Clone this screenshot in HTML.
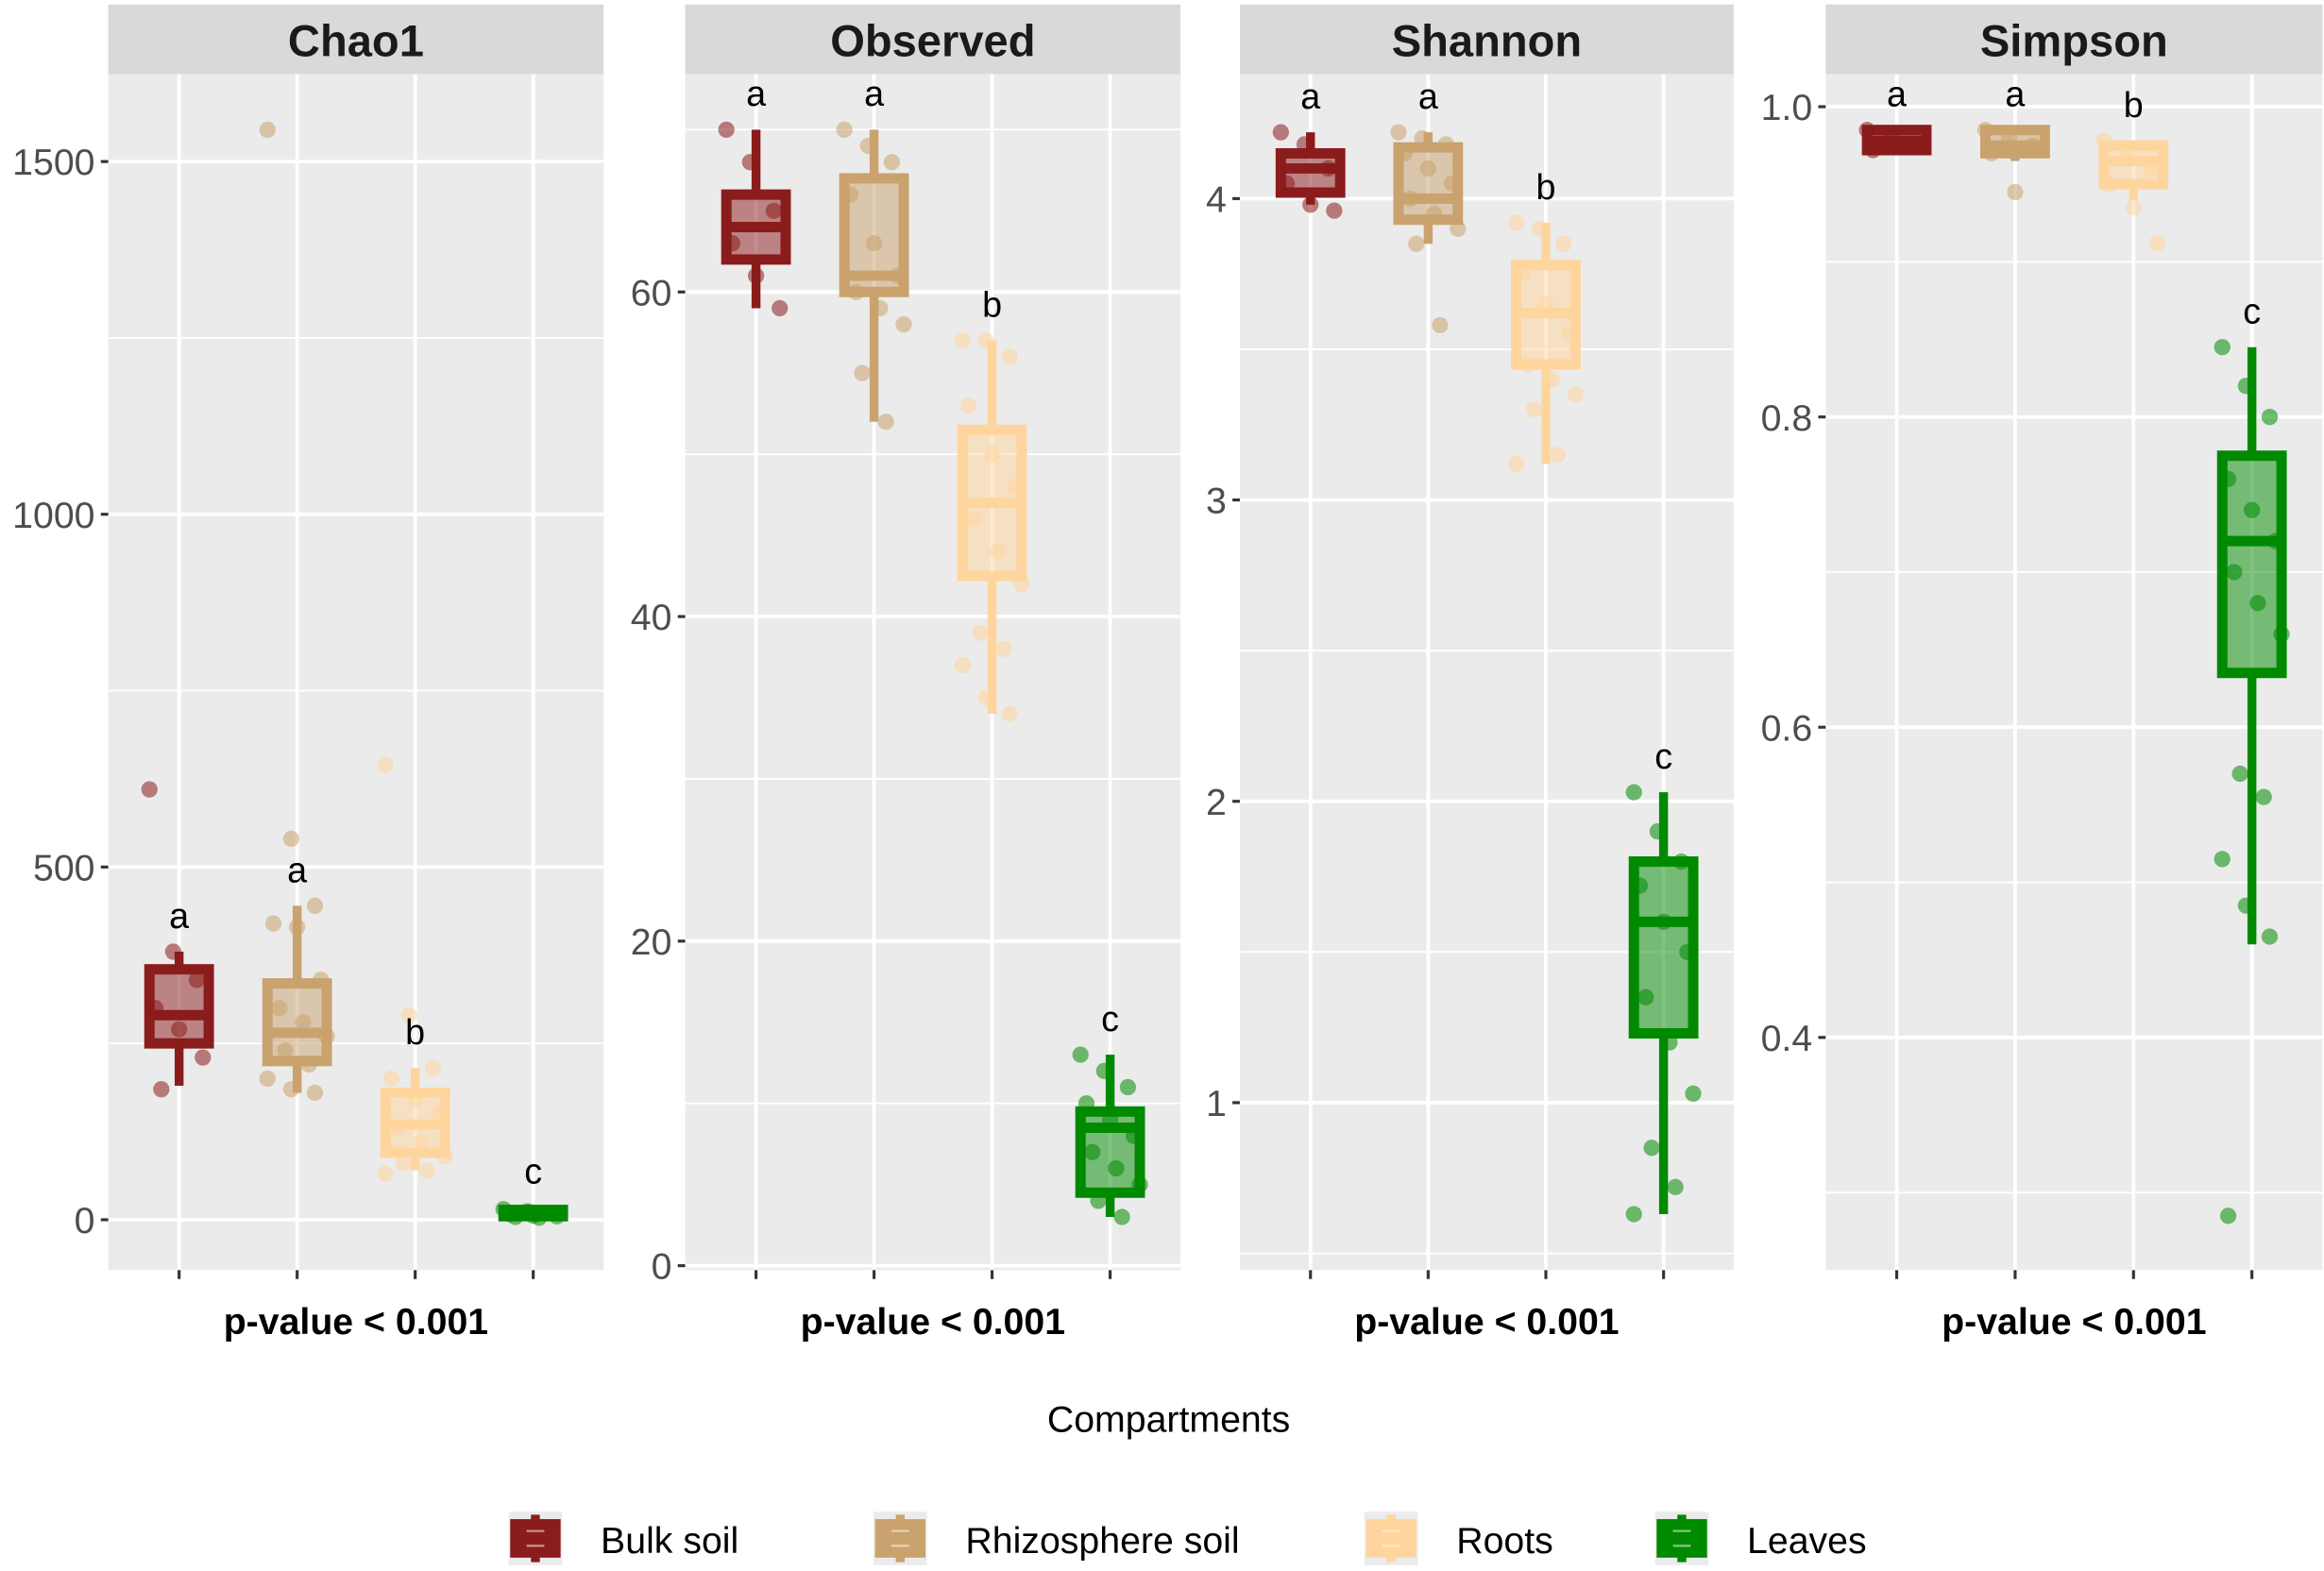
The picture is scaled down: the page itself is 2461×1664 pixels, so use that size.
<!DOCTYPE html>
<html><head><meta charset="utf-8"><style>
html,body{margin:0;padding:0;background:#fff;}
svg{display:block;font-family:"Liberation Sans",Arial,sans-serif;}
</style></head><body>
<svg id="chart" width="2461" height="1664" viewBox="0 0 1567 1060" preserveAspectRatio="none" xmlns="http://www.w3.org/2000/svg"></svg>
<script>
const groups = ["Bulk soil","Rhizosphere soil","Roots","Leaves"];
const colors = ["#8b1c1c","#c9a26e","#ffd59e","#008a00"];
const panelNames = ["Chao1","Observed","Shannon","Simpson"];
// box stats: [lowWhisker, q1, median, q3, highWhisker]
const chao1Boxes = [[190,250,290,355,380],[180,225,265,335,445],[70,95,135,180,215],[2,5,10,14,18]];
const observedBoxes = [[59,62,64,66,70],[52,60,61,67,70],[34,42.5,47,51.5,57],[3,4.5,8.5,9.5,13]];
const shannonBoxes = [[3.98,4.02,4.1,4.15,4.22],[3.85,3.93,4.0,4.17,4.22],[3.12,3.45,3.62,3.78,3.92],[0.63,1.23,1.6,1.8,2.03]];
const simpsonBoxes = [[0.972,0.972,0.978,0.985,0.985],[0.965,0.97,0.975,0.985,0.985],[0.94,0.95,0.965,0.975,0.978],[0.46,0.635,0.72,0.775,0.845]];
// individual sample points
const chao1Points = [[610,380,340,300,270,230,185],[1545,540,445,420,415,340,300,280,260,240,220,200,185,180],[645,290,215,200,170,150,130,110,90,80,70,65],[15,12,10,8,6,5,4,3]];
const observedPoints = [[70,68,65,63,61,59],[70,69,68,66,63,61,60,59,58,55,52],[57,57,56,53,50,48,46,44,42,39,38,37,35,34],[13,12,11,10,9,8,7,6,5,4,3]];
const shannonPoints = [[4.22,4.18,4.1,4.05,3.98,3.96],[4.22,4.2,4.18,4.15,4.1,4.05,4.0,3.95,3.9,3.85,3.58],[3.92,3.9,3.85,3.75,3.65,3.55,3.45,3.4,3.35,3.3,3.15,3.12],[2.03,1.9,1.8,1.72,1.6,1.5,1.35,1.2,1.03,0.85,0.72,0.63]];
const simpsonPoints = [[0.985,0.98,0.975,0.972],[0.985,0.98,0.975,0.97,0.945],[0.978,0.97,0.96,0.95,0.935,0.912],[0.845,0.82,0.8,0.76,0.74,0.72,0.7,0.68,0.66,0.57,0.555,0.515,0.485,0.465,0.285]];
const letters = ["a","a","b","c"];
const chao1Ticks = [0,500,1000,1500];
const observedTicks = [0,20,40,60];
const shannonTicks = [1,2,3,4];
const simpsonTicks = [0.4,0.6,0.8,1.0];
const chao1Labels = ["0","500","1000","1500"];
const observedLabels = ["0","20","40","60"];
const shannonLabels = ["1","2","3","4"];
const simpsonLabels = ["0.4","0.6","0.8","1.0"];
const pLabel = "p-value < 0.001";

const NS="http://www.w3.org/2000/svg";
const svg=document.getElementById('chart');
function mk(tag,attrs,parent){const e=document.createElementNS(NS,tag);for(const k in attrs)e.setAttribute(k,attrs[k]);(parent||svg).appendChild(e);return e;}

const panels=[
 {x0:73,x1:407,boxes:chao1Boxes,pts:chao1Points,ticks:chao1Ticks,labels:chao1Labels,ref:[0,823,1500,109]},
 {x0:462,x1:796,boxes:observedBoxes,pts:observedPoints,ticks:observedTicks,labels:observedLabels,ref:[0,854,60,197]},
 {x0:836,x1:1169,boxes:shannonBoxes,pts:shannonPoints,ticks:shannonTicks,labels:shannonLabels,ref:[1,744,4,134]},
 {x0:1231,x1:1566,boxes:simpsonBoxes,pts:simpsonPoints,ticks:simpsonTicks,labels:simpsonLabels,ref:[0.4,700,1.0,72]}
];
const plotTop=50,plotBot=857;
panels.forEach((p,pi)=>{
 const [v0,y0,v1,y1]=p.ref;
 const y=v=>y0+(v-v0)*(y1-y0)/(v1-v0);
 const w=p.x1-p.x0;
 const xc=i=>p.x0+w*(0.143+i*0.2383);
 const g=mk('g',{});
 
 
 const strip=mk('rect',{x:p.x0,y:3,width:w,height:47,fill:'#d9d9d9'},g);
 
 
 const st=mk('text',{x:(p.x0+p.x1)/2,y:38,'text-anchor':'middle','font-size':30,'font-weight':'bold',fill:'#1a1a1a'},g);
 st.textContent=panelNames[pi];
 
 
 mk('rect',{x:p.x0,y:plotTop,width:w,height:plotBot-plotTop,fill:'#ebebeb'},g);
 const step=p.ticks[1]-p.ticks[0];
 for(let k=-2;k<=p.ticks.length+1;k++){
   const vm=p.ticks[0]+(k-0.5)*step;const ym=y(vm);
   if(ym>plotTop&&ym<plotBot)mk('line',{x1:p.x0,x2:p.x1,y1:ym,y2:ym,stroke:'#fff','stroke-width':1.2},g);
 }
 p.ticks.forEach((t,i)=>{
   const yt=y(t);
   mk('line',{x1:p.x0,x2:p.x1,y1:yt,y2:yt,stroke:'#fff','stroke-width':2.4},g);
   mk('line',{x1:p.x0-5,x2:p.x0,y1:yt,y2:yt,stroke:'#333','stroke-width':2},g);
   const tl=mk('text',{x:p.x0-9,y:yt+9,'text-anchor':'end','font-size':25,fill:'#4d4d4d'},g);
   tl.textContent=p.labels[i];
   
   
 });
 groups.forEach((gn,i)=>{
   const cx=xc(i);
   mk('line',{x1:cx,x2:cx,y1:plotTop,y2:plotBot,stroke:'#fff','stroke-width':2.4},g);
   mk('line',{x1:cx,x2:cx,y1:plotBot,y2:plotBot+6,stroke:'#333','stroke-width':2},g);
 });
 groups.forEach((gn,i)=>{
   const cx=xc(i),c=colors[i],b=p.boxes[i];
   const bg=mk('g',{},g);
   
   
   mk('line',{x1:cx,x2:cx,y1:y(b[0]),y2:y(b[1]),stroke:c,'stroke-width':6},bg);
   mk('line',{x1:cx,x2:cx,y1:y(b[3]),y2:y(b[4]),stroke:c,'stroke-width':6},bg);
   const bw=40;
   mk('rect',{x:cx-bw/2,y:y(b[3]),width:bw,height:Math.max(1,y(b[1])-y(b[3])),fill:c,'fill-opacity':0.5,stroke:c,'stroke-width':7},bg);
   mk('line',{x1:cx-bw/2,x2:cx+bw/2,y1:y(b[2]),y2:y(b[2]),stroke:c,'stroke-width':7},bg);
   p.pts[i].forEach((v,j)=>{
     const jx=((j*37)%11-5)/5*20;
     const pt=mk('circle',{cx:cx+jx,cy:y(v),r:5.5,fill:c,'fill-opacity':0.55},bg);
     
     
   });
   const lt=mk('text',{x:cx,y:y(b[4])-16,'text-anchor':'middle','font-size':24,fill:'#000'},g);
   lt.textContent=letters[i];
   
   
 });
 const pl=mk('text',{x:(p.x0+p.x1)/2,y:900,'text-anchor':'middle','font-size':25,'font-weight':'bold',fill:'#000'},g);
 pl.textContent=pLabel;
 
 
});
const xt=mk('text',{x:788,y:966,'text-anchor':'middle','font-size':25,fill:'#000'});
xt.textContent="Compartments";


const legX=[343,589,920,1116];
groups.forEach((gn,i)=>{
 const lg=mk('g',{});
 
 
 const x=legX[i],c=colors[i];
 mk('rect',{x:x,y:1020,width:36,height:36,fill:'#ebebeb'},lg);
 mk('line',{x1:x+18,x2:x+18,y1:1022,y2:1054,stroke:c,'stroke-width':6},lg);
 mk('rect',{x:x+1,y:1025,width:34,height:26,fill:c},lg);
 mk('line',{x1:x+12,x2:x+24,y1:1033,y2:1033,stroke:'#fff','stroke-opacity':0.5,'stroke-width':1.5},lg);
 mk('line',{x1:x+12,x2:x+24,y1:1043,y2:1043,stroke:'#fff','stroke-opacity':0.5,'stroke-width':1.5},lg);
 const t=mk('text',{x:x+62,y:1048,'font-size':25,fill:'#000'},lg);
 t.textContent=gn;
});
</script>
</body></html>
